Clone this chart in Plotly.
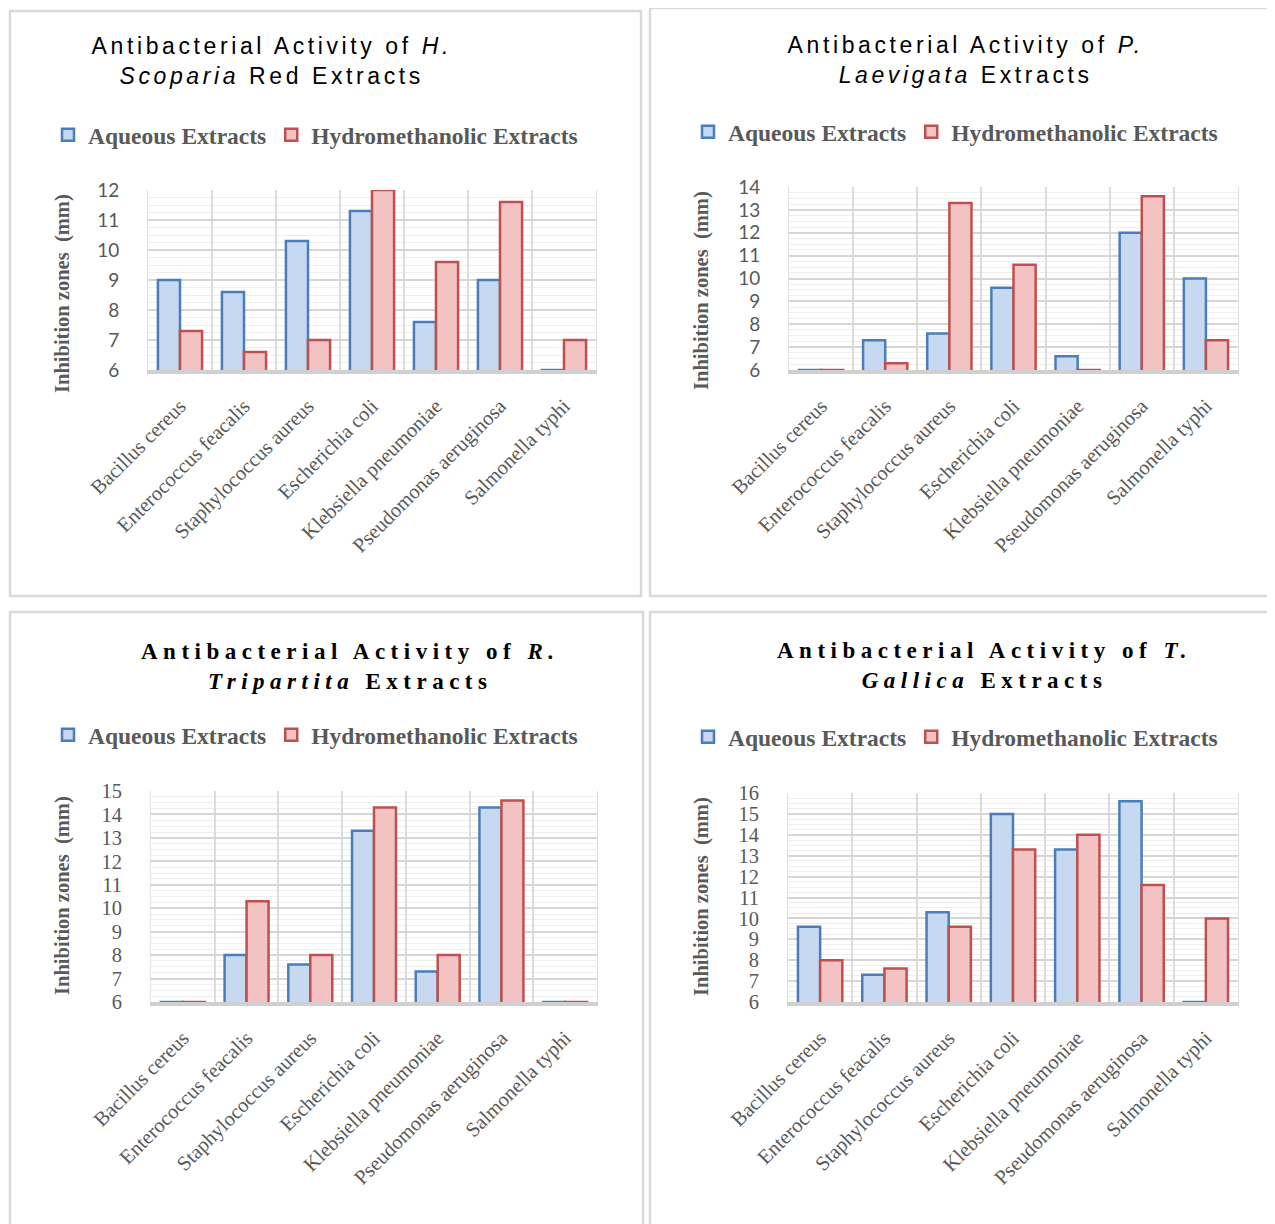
import plotly.graph_objects as go

W, H = 1275, 1224
OFF = 8  # page body margin in the browser

categories = ["Bacillus cereus", "Enterococcus feacalis", "Staphylococcus aureus",
              "Escherichia coli", "Klebsiella pneumoniae", "Pseudomonas aeruginosa",
              "Salmonella typhi"]

series_names = ["Aqueous Extracts", "Hydromethanolic Extracts"]

h_scoparia_aqueous = [9.0, 8.6, 10.3, 11.3, 7.6, 9.0, 6.0]
h_scoparia_hydro = [7.3, 6.6, 7.0, 12.0, 9.6, 11.6, 7.0]

p_laevigata_aqueous = [6.0, 7.3, 7.6, 9.6, 6.6, 12.0, 10.0]
p_laevigata_hydro = [6.0, 6.3, 13.3, 10.6, 6.0, 13.6, 7.3]

r_tripartita_aqueous = [6.0, 8.0, 7.6, 13.3, 7.3, 14.3, 6.0]
r_tripartita_hydro = [6.0, 10.3, 8.0, 14.3, 8.0, 14.6, 6.0]

t_gallica_aqueous = [9.6, 7.3, 10.3, 15.0, 13.3, 15.6, 6.0]
t_gallica_hydro = [8.0, 7.6, 9.6, 13.3, 14.0, 11.6, 10.0]

titles = [
    "Antibacterial Activity of <i>H.</i><br><i>Scoparia</i> Red Extracts",
    "Antibacterial Activity of <i>P.</i><br><i>Laevigata</i> Extracts",
    "Antibacterial Activity of <i>R.</i><br><i>Tripartita</i> Extracts",
    "Antibacterial Activity of <i>T.</i><br><i>Gallica</i> Extracts",
]
y_max = [12, 14, 15, 16]
y_title = "Inhibition zones  (mm)"


def px(x):
    return (x - OFF) / W


def py(y):
    return 1 - (y - OFF) / H


# layout geometry (pixels, in screenshot coordinates)
panels = [
    dict(aq=h_scoparia_aqueous, hy=h_scoparia_hydro, xd=(148, 596), yd=(190, 370),
         box=(10, 11, 641, 596), title_xy=(272, 61), leg_xy=(48, 135), ytit_xy=(62, 294),
         sans=True),
    dict(aq=p_laevigata_aqueous, hy=p_laevigata_hydro, xd=(789, 1238), yd=(187, 370),
         box=(650, 8, 1295, 596), title_xy=(965, 60), leg_xy=(688, 132), ytit_xy=(701, 291),
         sans=True),
    dict(aq=r_tripartita_aqueous, hy=r_tripartita_hydro, xd=(151, 597), yd=(791, 1002),
         box=(10, 612, 643, 1240), title_xy=(350, 666), leg_xy=(48, 735), ytit_xy=(62, 896),
         sans=False),
    dict(aq=t_gallica_aqueous, hy=t_gallica_hydro, xd=(788, 1238), yd=(793, 1002),
         box=(650, 612, 1295, 1240), title_xy=(984, 665), leg_xy=(688, 737), ytit_xy=(701, 897),
         sans=False),
]

BLUE_FILL, BLUE_LINE = "#c6d9f1", "#4a7ebb"
RED_FILL, RED_LINE = "#f3c3c3", "#c0504d"
GREY_TXT = "#595959"

fig = go.Figure()
layout = dict(width=W, height=H,
              margin=dict(l=0, r=0, t=0, b=0, pad=0, autoexpand=False),
              paper_bgcolor="white", plot_bgcolor="white",
              barmode="group", bargap=0.31, bargroupgap=0.0,
              shapes=[], annotations=[])

for i, p in enumerate(panels):
    n = "" if i == 0 else str(i + 1)
    xa, ya = "x" + n, "y" + n
    leg = "legend" + n
    for name, vals, fill, line in [(series_names[0], p["aq"], BLUE_FILL, BLUE_LINE),
                                   (series_names[1], p["hy"], RED_FILL, RED_LINE)]:
        fig.add_trace(go.Bar(
            x=categories, y=vals, name=name, xaxis=xa, yaxis=ya, legend=leg,
            marker=dict(color=fill, line=dict(color=line, width=2.5)),
            showlegend=True,
        ))
    tick_font = dict(family="Lato" if p["sans"] else "Liberation Serif",
                     size=19 if p["sans"] else 20.5, color=GREY_TXT)
    layout["xaxis" + n] = dict(
        domain=[px(p["xd"][0]), px(p["xd"][1])], anchor=ya, type="category",
        tickson="boundaries", showgrid=True, gridcolor="#dcdcdc", gridwidth=1.5,
        tickangle=-45, ticks="", ticklabelstandoff=12, automargin=False,
        tickfont=dict(family="Liberation Serif", size=20.5, color=GREY_TXT),
        showline=True, linecolor="#d0d0d0", linewidth=4, mirror=False,
        fixedrange=True,
    )
    layout["yaxis" + n] = dict(
        domain=[py(p["yd"][1]), py(p["yd"][0])], anchor=xa,
        range=[6, y_max[i]], dtick=1, tick0=6, automargin=False,
        showgrid=True, gridcolor="#d6d6d6", gridwidth=1.5,
        minor=dict(dtick=0.25, showgrid=True, gridcolor="#eeeeee", gridwidth=1),
        zeroline=False, ticks="", ticklabelstandoff=24,
        tickfont=tick_font, showline=True, linecolor="#e0e0e0", linewidth=1, mirror=True,
        fixedrange=True,
    )
    layout[leg] = dict(
        orientation="h", x=px(p["leg_xy"][0]), y=py(p["leg_xy"][1]),
        xanchor="left", yanchor="middle", bgcolor="rgba(0,0,0,0)",
        font=dict(family="Liberation Serif", size=23.5, color=GREY_TXT, weight="bold"),
        itemclick=False, itemdoubleclick=False,
    )
    bx0, by0, bx1, by1 = p["box"]
    layout["shapes"].append(dict(type="rect", xref="paper", yref="paper",
                                 x0=px(bx0), x1=px(bx1), y0=py(by1), y1=py(by0),
                                 line=dict(color="#d9d9d9", width=2.5)))
    if p["sans"]:
        tfont = dict(family="Liberation Sans", size=23, color="black")
    else:
        tfont = dict(family="Liberation Serif", size=23, color="black", weight="bold")
    layout["annotations"].append(dict(
        text=titles[i], xref="paper", yref="paper", x=px(p["title_xy"][0]), y=py(p["title_xy"][1]),
        xanchor="center", yanchor="middle", showarrow=False, font=tfont, align="center"))
    layout["annotations"].append(dict(
        text=y_title, xref="paper", yref="paper", x=px(p["ytit_xy"][0]), y=py(p["ytit_xy"][1]),
        xanchor="center", yanchor="middle", showarrow=False, textangle=-90,
        font=dict(family="Liberation Serif", size=20.5, color=GREY_TXT, weight="bold")))

fig.update_layout(**layout)

post = """
var s = document.createElement('style');
s.textContent = "text.annotation-text[data-unformatted^='Antibacterial']{letter-spacing:3.6px;}" +
  "text.annotation-text[data-unformatted*='Tripartita'], text.annotation-text[data-unformatted*='Gallica']{letter-spacing:5.5px;}";
document.head.appendChild(s);
"""

fig.write_html("out.html", post_script=post, config={"displayModeBar": False})
